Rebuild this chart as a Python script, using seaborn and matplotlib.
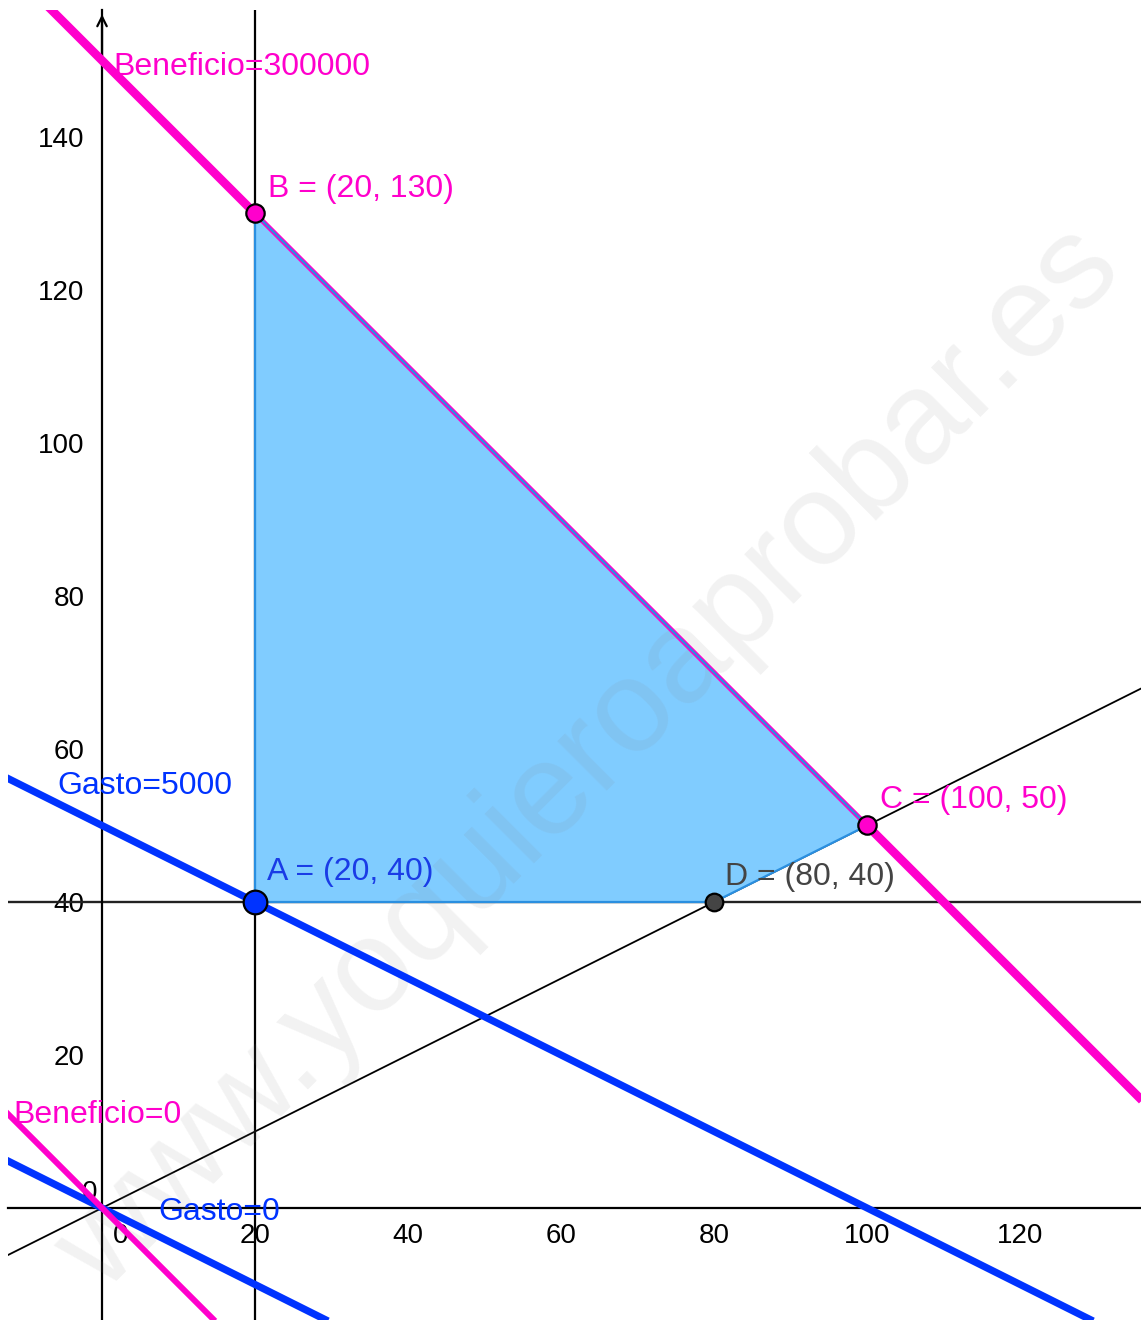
import numpy as np
import pandas as pd
import matplotlib
matplotlib.use("Agg")
import matplotlib.pyplot as plt
import seaborn as sns

# ---------------- data ----------------
# feasible region vertices A, B, C, D
vert_names = ["A", "B", "C", "D"]
vert_x = [20, 20, 100, 80]
vert_y = [40, 130, 50, 40]
vert_labels = ["A = (20, 40)", "B = (20, 130)", "C = (100, 50)", "D = (80, 40)"]

# iso-lines (endpoints beyond the view; Beneficio=300000 split at B and C)
benef300k_x = [-10, 20, 100, 140]
benef300k_y = [160, 130, 50, 10]
benef0_x = [-20, 40]
benef0_y = [20, -40]
gasto5000_x = [-20, 140]
gasto5000_y = [60, -20]
gasto0_x = [-20, 140]
gasto0_y = [10, -70]
# constraint lines
ray_x = [-20, 140]          # y = x/2
ray_y = [-10, 70]
vline_x = 20                # x = 20
hline_y = 40                # y = 40

xticks = [20, 40, 60, 80, 100, 120]
yticks = [20, 40, 60, 80, 100, 120, 140]

# ---------------- style ----------------
sns.set_theme(style="white")
plt.rcParams["font.family"] = ["Liberation Sans", "DejaVu Sans"]

MAG = "#FF00CC"
BLUE = "#0033FF"
FILL = "#80CCFF"
EDGE = "#2A8FE0"

W, H = 1141, 1320
fig = plt.figure(figsize=(W / 100, H / 100), dpi=100)
ax = fig.add_axes([8 / W, 0, 1133 / W, 1310 / H])
ax.set_xlim(-12.29, 135.8)
ax.set_ylim(-14.64, 156.6)

# axes through origin
for s in ["top", "right"]:
    ax.spines[s].set_visible(False)
ax.spines["left"].set_position(("data", 0))
ax.spines["bottom"].set_position(("data", 0))
for s in ["left", "bottom"]:
    ax.spines[s].set_color("black")
    ax.spines[s].set_linewidth(1.6)
    ax.spines[s].set_zorder(1)
ax.set_xticks(xticks)
ax.set_yticks(yticks)
ax.tick_params(axis="both", direction="out", length=7.5, width=1.3, color="black",
               labelsize=20, labelcolor="black")
ax.tick_params(axis="x", pad=3)
ax.tick_params(axis="y", pad=5)
ax.grid(False)
# arrow at top of y axis
ax.annotate("", xy=(0, 156.4), xytext=(0, 150),
            arrowprops=dict(arrowstyle="->", color="black", lw=1.6,
                            mutation_scale=17), zorder=1)
ax.text(-0.6, 2.0, "0", fontsize=20, ha="right", va="center", color="black", zorder=1)
ax.text(2.4, -2.0, "0", fontsize=20, ha="center", va="top", color="black", zorder=1)

# black constraint lines
ax.axvline(vline_x, color="black", lw=1.6, zorder=1)
ax.axhline(hline_y, color="#222222", lw=1.7, zorder=1)
sns.lineplot(x=ray_x, y=ray_y, ax=ax, color="black", lw=1.3, sort=False,
             estimator=None, zorder=1)

# feasible region
ax.fill(vert_x, vert_y, color=FILL, lw=0, zorder=2)

# watermark
ax.text(63.8, 58.6, "www.yoquieroaprobar.es", fontsize=95, rotation=45,
        rotation_mode="anchor", ha="center", va="center", color="#808080",
        alpha=0.1, zorder=3)

# iso lines
sns.lineplot(x=gasto5000_x, y=gasto5000_y, ax=ax, color=BLUE, lw=5.2, sort=False,
             estimator=None, zorder=4)
sns.lineplot(x=gasto0_x, y=gasto0_y, ax=ax, color=BLUE, lw=5.2, sort=False,
             estimator=None, zorder=4)
sns.lineplot(x=benef0_x, y=benef0_y, ax=ax, color=MAG, lw=4.3, sort=False,
             estimator=None, zorder=4)
sns.lineplot(x=benef300k_x[:2], y=benef300k_y[:2], ax=ax, color=MAG, lw=6.2,
             sort=False, estimator=None, zorder=4)
sns.lineplot(x=benef300k_x[2:], y=benef300k_y[2:], ax=ax, color=MAG, lw=6.2,
             sort=False, estimator=None, zorder=4)
sns.lineplot(x=benef300k_x[1:3], y=benef300k_y[1:3], ax=ax, color=MAG, lw=3.6,
             sort=False, estimator=None, zorder=4)
for ln in ax.lines:
    ln.set_solid_capstyle("butt")

# polygon edge
ax.fill(vert_x, vert_y, facecolor="none", edgecolor=EDGE, lw=1.6, zorder=4.5)

# points
pts = pd.DataFrame({"name": vert_names, "x": vert_x, "y": vert_y})
pt_colors = {"A": BLUE, "B": MAG, "C": MAG, "D": "#444444"}
pt_sizes = {"A": 290, "B": 175, "C": 175, "D": 160}
for _, r in pts.iterrows():
    sns.scatterplot(x=[r.x], y=[r.y], ax=ax, color=pt_colors[r["name"]],
                    s=pt_sizes[r["name"]], edgecolor="black", linewidth=1.6,
                    zorder=6, legend=False)

# labels
lab_fs = 23
ax.text(21.6, 42.9, vert_labels[0], color="#1A3CE6", fontsize=lab_fs, zorder=7)
ax.text(21.7, 132.2, vert_labels[1], color=MAG, fontsize=lab_fs, zorder=7)
ax.text(101.7, 52.3, vert_labels[2], color=MAG, fontsize=lab_fs, zorder=7)
ax.text(81.4, 42.2, vert_labels[3], color="#444444", fontsize=lab_fs, zorder=7)
ax.text(1.44, 148.1, "Beneficio=300000", color=MAG, fontsize=lab_fs, zorder=7)
ax.text(-5.9, 54.1, "Gasto=5000", color=BLUE, fontsize=lab_fs, zorder=7)
ax.text(-11.6, 11.1, "Beneficio=0", color=MAG, fontsize=lab_fs, zorder=7)
ax.text(7.3, -1.6, "Gasto=0", color=BLUE, fontsize=lab_fs, zorder=7)

ax.set_xlabel("")
ax.set_ylabel("")
fig.savefig("out.png", dpi=100, facecolor="white")
